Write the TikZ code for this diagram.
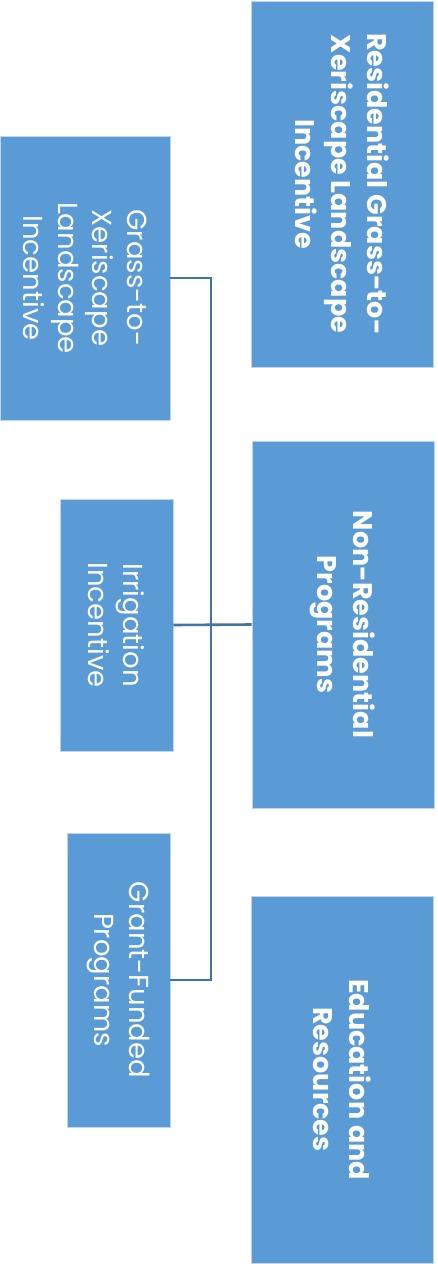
\documentclass[tikz,border=0pt]{standalone}
\usepackage{fontspec}
\setmainfont{Poppins}
\definecolor{boxfill}{RGB}{91,155,213}
\definecolor{boxedge}{RGB}{190,215,238}
\definecolor{conn}{RGB}{65,115,168}
\tikzset{
  box/.style={draw=boxedge, line width=0.8pt, fill=boxfill, text=white, rotate=-90,
    align=center, inner sep=0pt, font=\fontsize{27.5}{34.5}\selectfont},
  bbox/.style={box, font=\fontsize{27}{36}\selectfont\bfseries},
  link/.style={draw=conn, line width=2.6pt}
}
\begin{document}
\begin{tikzpicture}[x=1pt,y=-1pt]
\useasboundingbox (0,0) rectangle (438,1268);
\node[bbox, minimum width=366pt, minimum height=182pt] (R1) at (342,184) {Residential Grass-to-\\Xeriscape Landscape\\Incentive};
\node[bbox, minimum width=367pt, minimum height=182pt] (R2) at (343,624.5) {Non-Residential\\Programs};
\node[bbox, minimum width=367pt, minimum height=182pt] (R3) at (342,1079.5) {Education and\\Resources};
\node[box, minimum width=284pt, minimum height=170pt] (L1) at (85,278) {Grass-to-\\Xeriscape\\Landscape\\Incentive};
\node[box, minimum width=252pt, minimum height=113pt] (L2) at (116.5,625) {Irrigation\\Incentive};
\node[box, minimum width=294pt, minimum height=103pt] (L3) at (118.5,980) {Grant-Funded\\Programs};
\coordinate (bus) at (211,0);
\draw[link] (L1.north) -- (L1.north -| bus) -- (L3.north -| bus) -- (L3.north);
\draw[link] (L2.north) -- (R2.south);
\end{tikzpicture}
\end{document}
